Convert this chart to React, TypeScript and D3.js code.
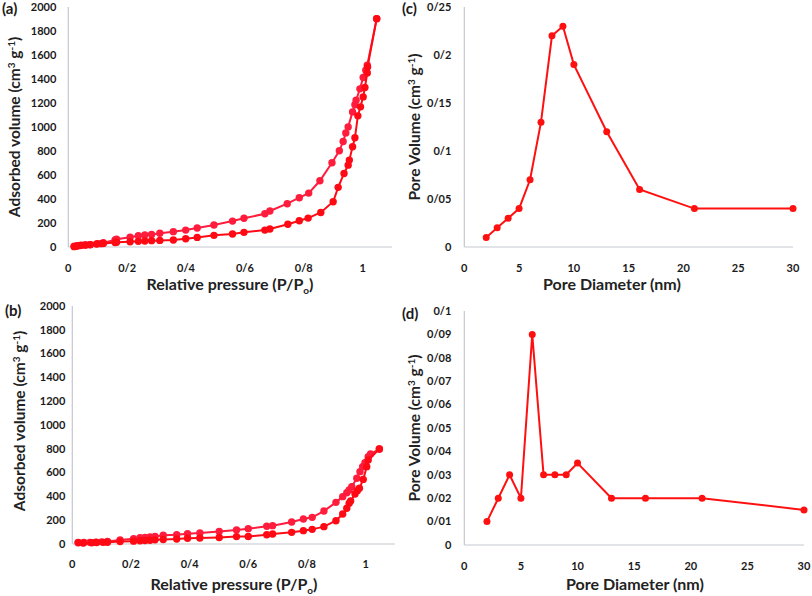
import React from "react";
import * as d3 from "d3";

// ---------- Data ----------
// Panel (a) – adsorption (lower) branch
const aAdsX = [0.02,0.03,0.04,0.057,0.074,0.096,0.113,0.119,0.159,0.164,0.21,0.238,0.26,0.283,0.311,0.357,0.399,0.438,0.495,0.558,0.597,0.668,0.685,0.746,0.785,0.815,0.858,0.9,0.917,0.937,0.951,0.955,0.966,0.974,0.984,0.993,1.002,1.008,1.016,1.017,1.048];
const aAdsY = [3,8,12,17,19,25,28,30,37,39,44,47,50,53,55,58,69,80,97,108,122,141,150,189,219,241,288,377,497,613,682,724,835,910,1093,1168,1251,1329,1451,1501,1903];
// Panel (a) – desorption (upper) branch
const aDesX = [0.02,0.03,0.045,0.06,0.075,0.1,0.119,0.159,0.164,0.21,0.238,0.26,0.283,0.311,0.357,0.399,0.438,0.495,0.558,0.597,0.668,0.685,0.744,0.785,0.817,0.855,0.896,0.921,0.934,0.943,0.951,0.966,0.974,0.978,0.991,1.002,1.011,1.016,1.048];
const aDesY = [6,10,14,17,20,28,36,58,64,81,94,100,105,114,128,141,158,183,216,239,277,300,361,411,449,552,702,802,879,951,1001,1126,1185,1223,1318,1412,1473,1515,1903];

// Panel (b) – adsorption (lower) branch
const bAdsX = [0.02,0.037,0.066,0.083,0.106,0.12,0.163,0.209,0.231,0.248,0.265,0.282,0.31,0.356,0.393,0.435,0.501,0.56,0.6,0.663,0.683,0.748,0.788,0.818,0.858,0.899,0.922,0.936,0.944,0.949,0.964,0.972,0.979,0.992,1.004,1.009,1.047];
const bAdsY = [10,8,10,12,14,15,20,24,27,30,32,35,38,42,48,50,55,62,63,78,84,98,112,123,146,196,252,300,342,361,420,448,468,543,650,706,798];
// Panel (b) – desorption (upper) branch
const bDesX = [0.02,0.04,0.06,0.08,0.1,0.12,0.163,0.209,0.231,0.248,0.265,0.282,0.31,0.356,0.393,0.435,0.501,0.56,0.6,0.663,0.683,0.748,0.788,0.818,0.858,0.899,0.922,0.936,0.944,0.953,0.97,0.981,0.99,0.998,1.009,1.017,1.047];
const bDesY = [14,13,14,16,18,22,34,45,53,56,59,64,73,78,87,92,106,118,129,149,154,185,210,224,277,350,398,431,454,482,552,608,650,683,734,756,798];

// Panels (c) and (d) – pore size distribution
const poreDiameters = [2,3,4,5,6,7,8,9,10,13,16,21,30];
const cPoreVolume = [0.01,0.02,0.03,0.04,0.07,0.13,0.22,0.23,0.19,0.12,0.06,0.04,0.04];
const dPoreVolume = [0.01,0.02,0.03,0.02,0.09,0.03,0.03,0.03,0.035,0.02,0.02,0.02,0.015];

// Tick values
const pressureTicks = [0,0.2,0.4,0.6,0.8,1];
const adsorbedTicks = [0,200,400,600,800,1000,1200,1400,1600,1800,2000];
const diameterTicks = [0,5,10,15,20,25,30];
const cVolumeTicks = [0,0.05,0.1,0.15,0.2,0.25];
const dVolumeTicks = [0,0.01,0.02,0.03,0.04,0.05,0.06,0.07,0.08,0.09,0.1];

// ---------- Styling ----------
const FONT = "Lato, 'Open Sans', sans-serif";
const AXIS_COLOR = "#c3c8cf";
const RED = "#ff1010";
const UPPER_RED = "#ff1c3c";
const LOWER_RED = "#ff0a14";

const fmt = (v: number) => String(+v.toFixed(3)).replace(".", "/");

type Series = { xs: number[]; ys: number[]; color: string };

function Panel(props: {
  x: d3.ScaleLinear<number, number>;
  y: d3.ScaleLinear<number, number>;
  xTicks: number[];
  yTicks: number[];
  series: Series[];
  yLabelGap: number;
  xLabelY: number;
  label: string;
  labelPos: [number, number];
  xTitle: React.ReactNode;
  xTitlePos: [number, number];
  yTitle: React.ReactNode;
  yTitlePos: [number, number];
  r: number;
}) {
  const { x, y, xTicks, yTicks, series, yLabelGap, xLabelY, label, labelPos, xTitle, xTitlePos, yTitle, yTitlePos, r } = props;
  const [x0, x1] = x.range();
  const [y0, y1] = y.range();
  const line = d3
    .line<[number, number]>()
    .x((d) => x(d[0]))
    .y((d) => y(d[1]));
  return (
    <g>
      <line x1={x0} x2={x0} y1={y1} y2={y0} stroke={AXIS_COLOR} strokeWidth={1.2} />
      <line x1={x0} x2={x1} y1={y0} y2={y0} stroke={AXIS_COLOR} strokeWidth={1.2} />
      {yTicks.map((t) => (
        <text key={"y" + t} x={x0 - yLabelGap} y={y(t)} dy="0.35em" textAnchor="end" fontSize={11} fontWeight={700} fill="#1a1a1a">
          {fmt(t)}
        </text>
      ))}
      {xTicks.map((t) => (
        <text key={"x" + t} x={x(t)} y={xLabelY} dy="0.35em" textAnchor="middle" fontSize={11} fontWeight={700} fill="#1a1a1a">
          {fmt(t)}
        </text>
      ))}
      {series.map((s, i) => {
        const pts = s.xs.map((v, j) => [v, s.ys[j]] as [number, number]);
        return (
          <g key={i}>
            <path d={line(pts) || ""} fill="none" stroke={s.color} strokeWidth={2} />
            {pts.map((p, j) => (
              <circle key={j} cx={x(p[0])} cy={y(p[1])} r={r} fill={s.color} />
            ))}
          </g>
        );
      })}
      <text x={labelPos[0]} y={labelPos[1]} fontSize={15} fontWeight={700} fill="#1a1a1a">
        {label}
      </text>
      <text x={xTitlePos[0]} y={xTitlePos[1]} dy="0.35em" textAnchor="middle" fontSize={16} fontWeight={700} fill="#222">
        {xTitle}
      </text>
      <text
        transform={`translate(${yTitlePos[0]},${yTitlePos[1]}) rotate(-90)`}
        dy="0.35em"
        textAnchor="middle"
        fontSize={15.5}
        fontWeight={700}
        fill="#222"
      >
        {yTitle}
      </text>
    </g>
  );
}

const unitTitle = (prefix: string) => (
  <>
    {prefix} (cm
    <tspan fontSize={10} dy={-5}>3</tspan>
    <tspan dy={5}> g</tspan>
    <tspan fontSize={10} dy={-5}>-1</tspan>
    <tspan dy={5}>)</tspan>
  </>
);

const pressureTitle = (
  <>
    Relative pressure (P/P
    <tspan fontSize={10} dy={4}>o</tspan>
    <tspan dy={-4}>)</tspan>
  </>
);

export default function App() {
  const ax = d3.scaleLinear().domain([0, 1.1]).range([68.3, 392]);
  const ay = d3.scaleLinear().domain([0, 2000]).range([247, 7]);
  const bx = d3.scaleLinear().domain([0, 1.1]).range([72.3, 394.9]);
  const by = d3.scaleLinear().domain([0, 2000]).range([544, 306]);
  const cx = d3.scaleLinear().domain([0, 30]).range([464.3, 793]);
  const cy = d3.scaleLinear().domain([0, 0.25]).range([247, 7]);
  const dx = d3.scaleLinear().domain([0, 30]).range([464.3, 804]);
  const dy = d3.scaleLinear().domain([0, 0.1]).range([545, 311]);

  return (
    <svg
      width={812}
      height={596}
      style={{ position: "absolute", left: 0, top: 0, background: "#fff" }}
      fontFamily={FONT}
    >
      <rect width={812} height={596} fill="#fff" />
      <Panel
        x={ax}
        y={ay}
        xTicks={pressureTicks}
        yTicks={adsorbedTicks}
        series={[
          { xs: aDesX, ys: aDesY, color: UPPER_RED },
          { xs: aAdsX, ys: aAdsY, color: LOWER_RED },
        ]}
        yLabelGap={12}
        xLabelY={268}
        label="(a)"
        labelPos={[2, 14]}
        xTitle={pressureTitle}
        xTitlePos={[230, 284]}
        yTitle={unitTitle("Adsorbed volume")}
        yTitlePos={[15, 127]}
        r={3.7}
      />
      <Panel
        x={bx}
        y={by}
        xTicks={pressureTicks}
        yTicks={adsorbedTicks}
        series={[
          { xs: bDesX, ys: bDesY, color: UPPER_RED },
          { xs: bAdsX, ys: bAdsY, color: LOWER_RED },
        ]}
        yLabelGap={7}
        xLabelY={564}
        label="(b)"
        labelPos={[5, 316]}
        xTitle={pressureTitle}
        xTitlePos={[234, 584]}
        yTitle={unitTitle("Adsorbed volume")}
        yTitlePos={[20, 421]}
        r={3.7}
      />
      <Panel
        x={cx}
        y={cy}
        xTicks={diameterTicks}
        yTicks={cVolumeTicks}
        series={[{ xs: poreDiameters, ys: cPoreVolume, color: RED }]}
        yLabelGap={13}
        xLabelY={268}
        label="(c)"
        labelPos={[402, 14]}
        xTitle="Pore Diameter (nm)"
        xTitlePos={[612, 284]}
        yTitle={unitTitle("Pore Volume")}
        yTitlePos={[415, 127]}
        r={3.5}
      />
      <Panel
        x={dx}
        y={dy}
        xTicks={diameterTicks}
        yTicks={dVolumeTicks}
        series={[{ xs: poreDiameters, ys: dPoreVolume, color: RED }]}
        yLabelGap={13}
        xLabelY={566}
        label="(d)"
        labelPos={[402, 319]}
        xTitle="Pore Diameter (nm)"
        xTitlePos={[635, 584]}
        yTitle={unitTitle("Pore Volume")}
        yTitlePos={[415, 428]}
        r={3.5}
      />
    </svg>
  );
}
